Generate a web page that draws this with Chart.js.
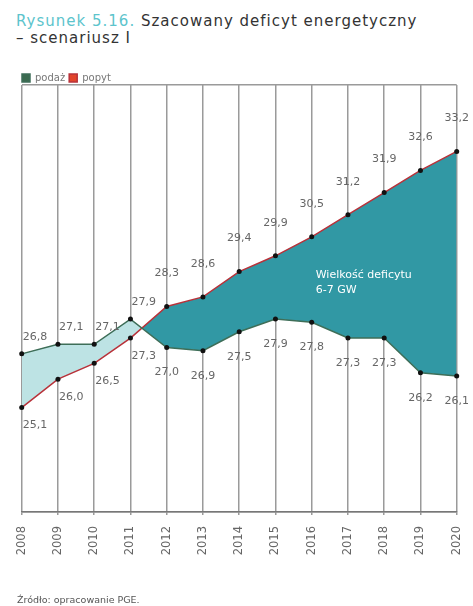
<!DOCTYPE html>
<html>
<head>
<meta charset="utf-8">
<script src="https://cdn.jsdelivr.net/npm/chart.js@4"></script>
<style>
  html, body { margin: 0; padding: 0; background: #fff; }
  body { width: 473px; height: 606px; position: relative; overflow: hidden; font-family: "DejaVu Sans", sans-serif; }
  #wrap { position: absolute; left: 0; top: 0; width: 473px; height: 606px; }
  .title { position: absolute; left: 16px; top: 13px; font-size: 15px; line-height: 17px; color: #333; letter-spacing: 1px; }
  .title .nr { color: #5cc4cc; }
  .src { position: absolute; left: 17px; top: 594px; font-size: 9.5px; color: #555; }
</style>
</head>
<body>
<div class="title"><span class="nr">Rysunek 5.16.</span> Szacowany deficyt energetyczny<br>– scenariusz I</div>
<div id="wrap"><canvas id="myChart"></canvas></div>
<div class="src">Źródło: opracowanie PGE.</div>
<script>
const years = ['2008','2009','2010','2011','2012','2013','2014','2015','2016','2017','2018','2019','2020']
const podaz = [26.8, 27.1, 27.1, 27.9, 27.0, 26.9, 27.5, 27.9, 27.8, 27.3, 27.3, 26.2, 26.1]
const popyt = [25.1, 26.0, 26.5, 27.3, 28.3, 28.6, 29.4, 29.9, 30.5, 31.2, 31.9, 32.6, 33.2]
const yMin = 21.8
const yMax = 35.3

const fmt = v => v.toFixed(1).replace('.', ',')

// labels outside the band: before crossing supply on top, after it demand on top
const valueLabels = {
  id: 'valueLabels',
  afterDatasetsDraw(chart) {
    const ctx = chart.ctx
    ctx.save()
    ctx.font = '11px "DejaVu Sans", sans-serif'
    ctx.fillStyle = '#666'
    ctx.textBaseline = 'middle'
    chart.getDatasetMeta(0).data.forEach((pt, i) => {
      if (i < 4) { ctx.textAlign = 'left'; ctx.fillText(fmt(podaz[i]), pt.x + 1, pt.y - 17) }
      else { ctx.textAlign = 'center'; ctx.fillText(fmt(podaz[i]), pt.x, pt.y + 25) }
    })
    chart.getDatasetMeta(1).data.forEach((pt, i) => {
      if (i < 4) { ctx.textAlign = 'left'; ctx.fillText(fmt(popyt[i]), pt.x + 1, pt.y + 18) }
      else { ctx.textAlign = 'center'; ctx.fillText(fmt(popyt[i]), pt.x, pt.y - 33) }
    })
    const x = chart.scales.x.getPixelForValue(8) + 4
    const y = chart.scales.y.getPixelForValue(29.3)
    ctx.fillStyle = '#fff'
    ctx.textAlign = 'left'
    ctx.font = '11px "DejaVu Sans", sans-serif'
    ctx.fillText('Wielkość deficytu', x, y)
    ctx.fillText('6-7 GW', x, y + 15)
    ctx.restore()
  }
}

// legend box is a bit too tall, trim it so the plot starts right under it
const legendTrim = {
  id: 'legendTrim',
  afterInit(chart) {
    const lg = chart.legend
    const fit = lg.fit
    lg.fit = function () { fit.call(lg); lg.height -= 8 }
  }
}

const ctx = document.getElementById('myChart')
new Chart(ctx, {
  type: 'line',
  data: {
    labels: years,
    datasets: [{
      label: 'podaż',
      data: podaz,
      borderColor: '#3e6e58',
      backgroundColor: '#3b6b50',
      borderWidth: 1.5,
      pointRadius: 2.5,
      pointBackgroundColor: '#111',
      pointBorderWidth: 0,
      tension: 0,
      fill: false
    }, {
      label: 'popyt',
      data: popyt,
      borderColor: '#b8323a',
      backgroundColor: '#e2452b',
      borderWidth: 1.5,
      pointRadius: 2.5,
      pointBackgroundColor: '#111',
      pointBorderWidth: 0,
      tension: 0,
      fill: { target: 0, above: '#3198a4', below: '#bde3e4' }
    }]
  },
  options: {
    responsive: true,
    maintainAspectRatio: false,
    animation: false,
    layout: { padding: { left: 18, right: 16.3, top: 69, bottom: 0 } },
    plugins: {
      legend: {
        position: 'top',
        align: 'start',
        labels: {
          boxWidth: 8,
          boxHeight: 8,
          padding: 4,
          color: '#777',
          font: { size: 10, family: '"DejaVu Sans", sans-serif' }
        }
      },
      tooltip: { enabled: false }
    },
    scales: {
      x: {
        offset: false,
        grid: { color: '#9a9a9a', lineWidth: 1.5, tickLength: 3 },
        border: { color: '#777', width: 1.5 },
        ticks: {
          minRotation: 90,
          maxRotation: 90,
          padding: 11,
          color: '#666',
          font: { size: 11.5, family: '"DejaVu Sans", sans-serif' }
        },
        afterFit: s => { s.height = 94; s.paddingLeft = 0; s.paddingRight = 0 }
      },
      y: {
        min: yMin,
        max: yMax,
        ticks: { display: false },
        grid: { color: '#9a9a9a', lineWidth: 1.5, drawTicks: false },
        border: { display: false },
        afterBuildTicks: s => { s.ticks = [{ value: yMin }, { value: yMax }] },
        afterFit: s => { s.width = 3.7 }
      }
    }
  },
  plugins: [valueLabels, legendTrim]
})
</script>
</body>
</html>
